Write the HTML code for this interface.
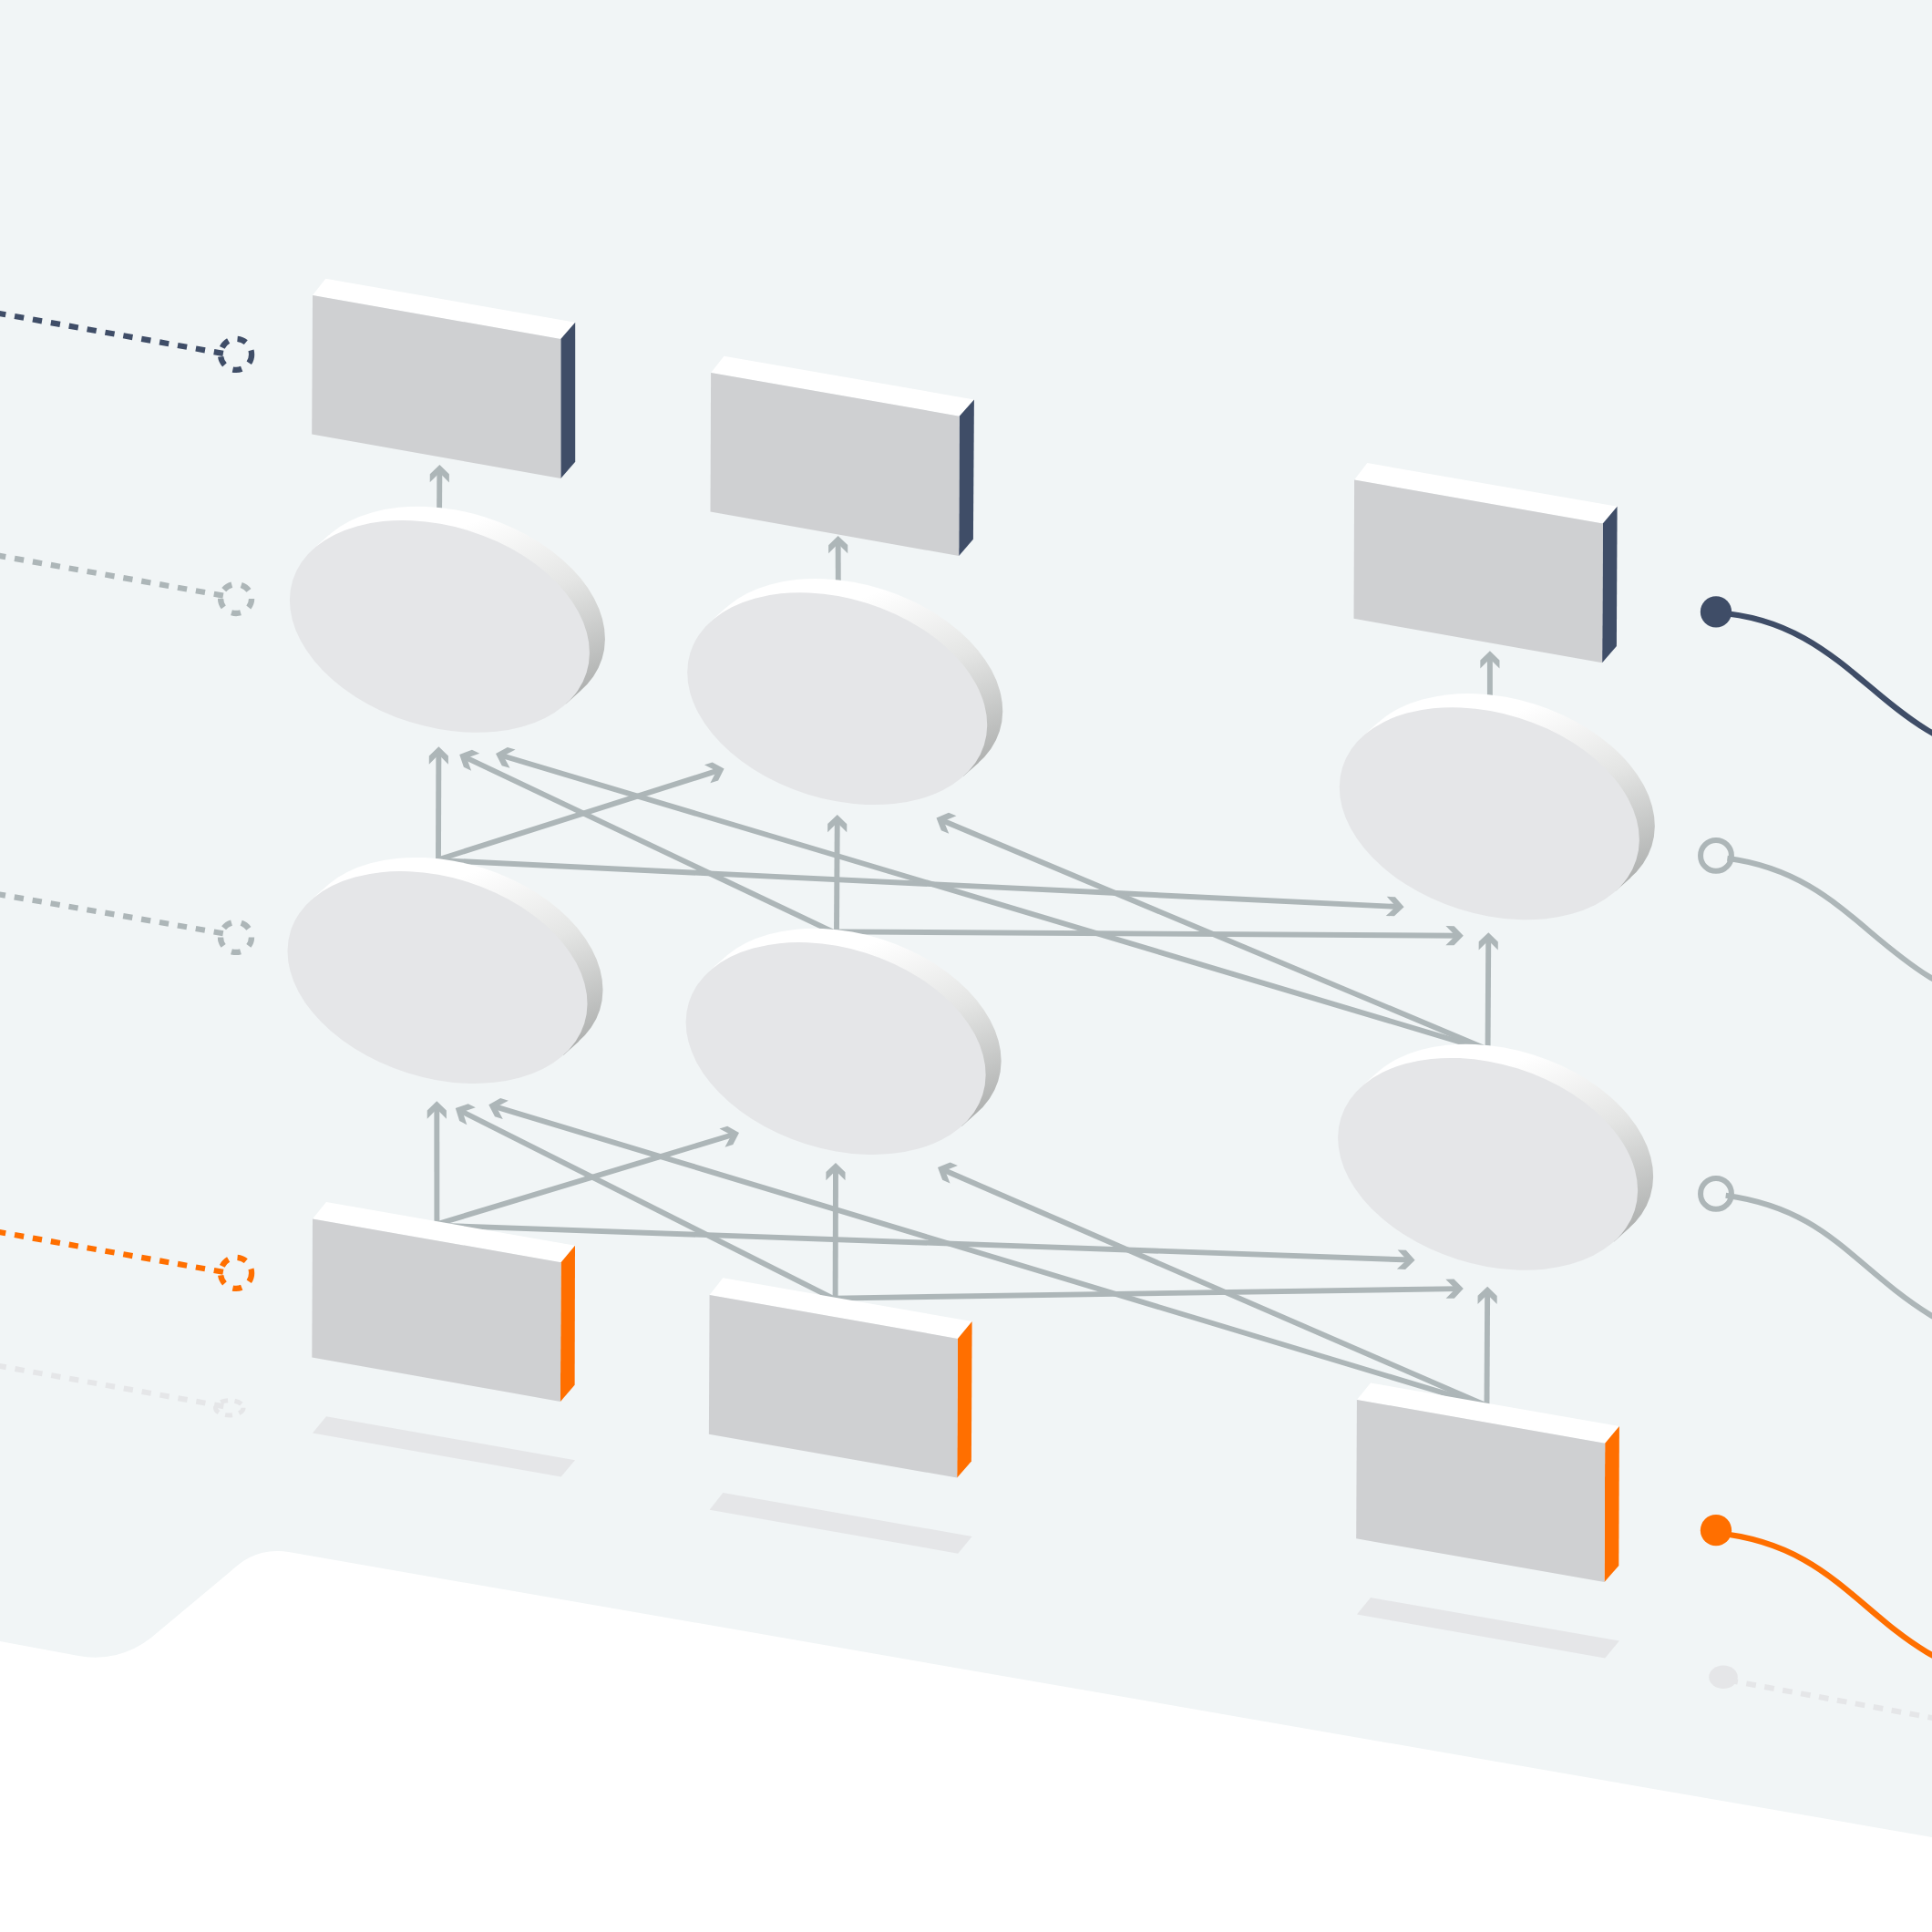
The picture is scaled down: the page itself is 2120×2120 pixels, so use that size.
<!DOCTYPE html>
<html><head><meta charset="utf-8"><title>Diagram</title>
<style>html,body{margin:0;padding:0;background:#f1f5f6;}body{width:2120px;height:2120px;overflow:hidden;font-family:"Liberation Sans",sans-serif;}svg{display:block;}</style>
</head><body>
<svg width="2120" height="2120" viewBox="0 0 2120 2120"><defs><linearGradient id="g0" gradientUnits="userSpaceOnUse" x1="449.9" y1="598.1" x2="525.8" y2="806.8"><stop offset="0" stop-color="#ffffff"/><stop offset="0.441" stop-color="#e4e5e4"/><stop offset="1" stop-color="#acaead"/></linearGradient><linearGradient id="g1" gradientUnits="userSpaceOnUse" x1="886.2" y1="677.4" x2="962.1" y2="886.1"><stop offset="0" stop-color="#ffffff"/><stop offset="0.441" stop-color="#e4e5e4"/><stop offset="1" stop-color="#acaead"/></linearGradient><linearGradient id="g2" gradientUnits="userSpaceOnUse" x1="1601.8" y1="803.4" x2="1677.7" y2="1012.1"><stop offset="0" stop-color="#ffffff"/><stop offset="0.441" stop-color="#e4e5e4"/><stop offset="1" stop-color="#acaead"/></linearGradient><linearGradient id="g3" gradientUnits="userSpaceOnUse" x1="447.5" y1="983.2" x2="523.4" y2="1191.9"><stop offset="0" stop-color="#ffffff"/><stop offset="0.441" stop-color="#e4e5e4"/><stop offset="1" stop-color="#acaead"/></linearGradient><linearGradient id="g4" gradientUnits="userSpaceOnUse" x1="884.6" y1="1061.2" x2="960.5" y2="1269.9"><stop offset="0" stop-color="#ffffff"/><stop offset="0.441" stop-color="#e4e5e4"/><stop offset="1" stop-color="#acaead"/></linearGradient><linearGradient id="g5" gradientUnits="userSpaceOnUse" x1="1600.1" y1="1188.0" x2="1676.0" y2="1396.7"><stop offset="0" stop-color="#ffffff"/><stop offset="0.441" stop-color="#e4e5e4"/><stop offset="1" stop-color="#acaead"/></linearGradient></defs>
<rect width="2120" height="2120" fill="#f1f5f6"/>
<path d="M-5,1800 L85,1816.7 A98,98 0 0 0 165.6,1797.3 L260.9,1717.6 A68,68 0 0 1 316.8,1703.1 L2125,2016.9 L2125,2125 L-5,2125 Z" fill="#ffffff"/>
<polygon points="358.00,1554.30 631.00,1602.20 615.60,1620.60 343.00,1572.40" fill="#e5e6e8"/>
<polygon points="793.30,1638.00 1066.60,1685.90 1051.20,1704.70 778.60,1656.80" fill="#e5e6e8"/>
<polygon points="1504.00,1753.10 1776.90,1800.60 1761.20,1819.40 1488.90,1771.50" fill="#e5e6e8"/>
<path d="M245.3,1543.2 L-12,1496.89" stroke="#e5e6e8" stroke-width="6" stroke-dasharray="10.3 9.9" fill="none"/>
<ellipse cx="251.8" cy="1544.8" rx="15.3" ry="8.2" fill="none" stroke="#e5e6e8" stroke-width="5" stroke-dasharray="8 7.5"/>
<ellipse cx="1891" cy="1840.2" rx="15.8" ry="12.7" fill="#e5e6e8"/>
<path d="M1896.4,1843.65 L2135.0,1887.70" stroke="#e5e6e8" stroke-width="6" stroke-dasharray="10.7 9.55" fill="none"/>
<path d="M244.9,387.9 L-12,341.95" stroke="#3f4d67" stroke-width="6.2" stroke-dasharray="10.3 9.9" fill="none"/>
<ellipse cx="259.05" cy="388.9" rx="17.05" ry="17.05" fill="none" stroke="#3f4d67" stroke-width="6.3" stroke-dasharray="10.0 10.35"/>
<path d="M244.9,653.6 L-12,607.86" stroke="#adb6b8" stroke-width="6.2" stroke-dasharray="10.3 9.9" fill="none"/>
<ellipse cx="259.1" cy="657.0" rx="17.0" ry="16.0" fill="none" stroke="#adb6b8" stroke-width="6.3" stroke-dasharray="10.2 10.54"/>
<path d="M244.8,1024.2 L-12,979.51" stroke="#adb6b8" stroke-width="6.2" stroke-dasharray="10.3 9.9" fill="none"/>
<ellipse cx="259.0" cy="1028.4" rx="17.0" ry="16.5" fill="none" stroke="#adb6b8" stroke-width="6.3" stroke-dasharray="10.2 10.85"/>
<path d="M244.9,1395.8 L-12,1350.06" stroke="#ff6f00" stroke-width="6.2" stroke-dasharray="10.3 9.9" fill="none"/>
<ellipse cx="259.05" cy="1396.9" rx="17.05" ry="17.05" fill="none" stroke="#ff6f00" stroke-width="6.3" stroke-dasharray="10.0 10.35"/>
<path d="M482.05,568.00 L482.37,515.00" stroke="#adb6b8" stroke-width="5.9" fill="none"/>
<polygon points="482.40,510.00 492.90,520.26 492.84,529.42 482.35,518.80 471.72,529.30 471.78,520.14" fill="#adb6b8"/>
<path d="M919.83,648.00 L919.62,592.90" stroke="#adb6b8" stroke-width="5.9" fill="none"/>
<polygon points="919.60,587.90 930.20,598.06 930.23,607.22 919.63,596.70 909.11,607.30 909.08,598.14" fill="#adb6b8"/>
<path d="M1634.90,774.00 L1634.90,719.20" stroke="#adb6b8" stroke-width="5.9" fill="none"/>
<polygon points="1634.90,714.20 1645.46,724.40 1645.46,733.56 1634.90,723.00 1624.34,733.56 1624.34,724.40" fill="#adb6b8"/>
<path d="M480.97,949.50 L481.38,824.30" stroke="#adb6b8" stroke-width="5.9" fill="none"/>
<polygon points="481.40,819.30 491.93,829.53 491.90,838.69 481.37,828.10 470.78,838.63 470.81,829.47" fill="#adb6b8"/>
<path d="M481.00,943.20 L789.84,844.92" stroke="#adb6b8" stroke-width="5.9" fill="none"/>
<polygon points="794.60,843.40 788.08,856.56 779.35,859.33 786.21,846.07 772.95,839.21 781.68,836.43" fill="#adb6b8"/>
<path d="M481.00,944.00 L1535.61,995.06" stroke="#adb6b8" stroke-width="5.9" fill="none"/>
<polygon points="1540.60,995.30 1529.90,1005.35 1520.75,1004.91 1531.81,994.87 1521.77,983.82 1530.92,984.26" fill="#adb6b8"/>
<path d="M917.95,1027.40 L918.77,898.90" stroke="#adb6b8" stroke-width="5.9" fill="none"/>
<polygon points="918.80,893.90 929.29,904.17 929.24,913.33 918.74,902.70 908.12,913.19 908.18,904.03" fill="#adb6b8"/>
<path d="M917.00,1024.00 L508.72,830.05" stroke="#adb6b8" stroke-width="5.9" fill="none"/>
<polygon points="504.20,827.90 517.94,822.74 526.22,826.67 512.15,831.68 517.16,845.75 508.88,841.82" fill="#adb6b8"/>
<path d="M917.00,1022.40 L1600.80,1026.77" stroke="#adb6b8" stroke-width="5.9" fill="none"/>
<polygon points="1605.80,1026.80 1595.53,1037.29 1586.37,1037.24 1597.00,1026.74 1586.51,1016.12 1595.67,1016.18" fill="#adb6b8"/>
<path d="M1632.55,1155.10 L1633.27,1028.20" stroke="#adb6b8" stroke-width="5.9" fill="none"/>
<polygon points="1633.30,1023.20 1643.80,1033.46 1643.75,1042.62 1633.25,1032.00 1622.63,1042.50 1622.68,1033.34" fill="#adb6b8"/>
<path d="M1630.40,1151.80 L548.79,828.53" stroke="#adb6b8" stroke-width="5.9" fill="none"/>
<polygon points="544.00,827.10 556.80,819.90 565.57,822.53 552.43,829.62 559.53,842.76 550.75,840.14" fill="#adb6b8"/>
<path d="M1630.40,1150.70 L1032.11,899.44" stroke="#adb6b8" stroke-width="5.9" fill="none"/>
<polygon points="1027.50,897.50 1040.99,891.71 1049.44,895.26 1035.61,900.91 1041.26,914.73 1032.82,911.19" fill="#adb6b8"/>
<path d="M479.41,1349.00 L479.30,1213.30" stroke="#adb6b8" stroke-width="5.9" fill="none"/>
<polygon points="479.30,1208.30 489.87,1218.49 489.87,1227.65 479.31,1217.10 468.75,1227.67 468.75,1218.51" fill="#adb6b8"/>
<path d="M479.40,1343.30 L806.21,1244.45" stroke="#adb6b8" stroke-width="5.9" fill="none"/>
<polygon points="811.00,1243.00 804.29,1256.06 795.53,1258.71 802.58,1245.55 789.41,1238.50 798.18,1235.85" fill="#adb6b8"/>
<path d="M479.40,1344.60 L1547.60,1382.52" stroke="#adb6b8" stroke-width="5.9" fill="none"/>
<polygon points="1552.60,1382.70 1542.03,1392.89 1532.88,1392.57 1543.81,1382.39 1533.63,1371.46 1542.78,1371.78" fill="#adb6b8"/>
<path d="M916.58,1429.80 L916.99,1280.90" stroke="#adb6b8" stroke-width="5.9" fill="none"/>
<polygon points="917.00,1275.90 927.53,1286.13 927.51,1295.29 916.98,1284.70 906.39,1295.23 906.41,1286.07" fill="#adb6b8"/>
<path d="M915.90,1425.60 L504.27,1218.35" stroke="#adb6b8" stroke-width="5.9" fill="none"/>
<polygon points="499.80,1216.10 513.66,1211.25 521.84,1215.37 507.66,1220.06 512.34,1234.24 504.16,1230.12" fill="#adb6b8"/>
<path d="M915.90,1424.60 L1600.80,1414.08" stroke="#adb6b8" stroke-width="5.9" fill="none"/>
<polygon points="1605.80,1414.00 1595.76,1424.72 1586.60,1424.86 1597.00,1414.14 1586.28,1403.74 1595.44,1403.60" fill="#adb6b8"/>
<path d="M1631.46,1546.40 L1632.17,1416.70" stroke="#adb6b8" stroke-width="5.9" fill="none"/>
<polygon points="1632.20,1411.70 1642.70,1421.96 1642.65,1431.12 1632.15,1420.50 1621.53,1431.00 1621.58,1421.84" fill="#adb6b8"/>
<path d="M1629.70,1542.30 L541.09,1213.65" stroke="#adb6b8" stroke-width="5.9" fill="none"/>
<polygon points="536.30,1212.20 549.12,1205.04 557.89,1207.69 544.72,1214.74 551.78,1227.90 543.01,1225.26" fill="#adb6b8"/>
<path d="M1629.70,1541.80 L1033.59,1282.99" stroke="#adb6b8" stroke-width="5.9" fill="none"/>
<polygon points="1029.00,1281.00 1042.56,1275.38 1050.96,1279.02 1037.07,1284.50 1042.55,1298.40 1034.15,1294.75" fill="#adb6b8"/>
<polygon points="343.05,323.97 357.30,305.80 631.20,353.70 615.30,372.00" fill="#ffffff"/>
<polygon points="615.30,372.00 631.20,353.70 631.20,506.80 615.30,524.95" fill="#3f4d67"/>
<polygon points="343.05,323.97 615.30,372.00 615.30,524.95 342.20,476.55" fill="#cfd0d2"/>
<polygon points="780.10,408.90 794.50,390.70 1068.90,438.40 1052.70,456.70" fill="#ffffff"/>
<polygon points="1052.70,456.70 1068.90,438.40 1067.90,591.70 1052.20,610.00" fill="#3f4d67"/>
<polygon points="780.10,408.90 1052.70,456.70 1052.20,610.00 779.50,561.40" fill="#cfd0d2"/>
<polygon points="1486.10,526.60 1500.30,508.00 1774.60,555.80 1758.80,574.50" fill="#ffffff"/>
<polygon points="1758.80,574.50 1774.60,555.80 1773.90,709.00 1758.10,727.20" fill="#3f4d67"/>
<polygon points="1486.10,526.60 1758.80,574.50 1758.10,727.20 1485.50,678.80" fill="#cfd0d2"/>
<polygon points="343.00,1337.40 358.00,1318.90 631.00,1366.80 615.60,1385.20" fill="#ffffff"/>
<polygon points="615.60,1385.20 631.00,1366.80 630.60,1519.80 614.90,1537.90" fill="#ff6f00"/>
<polygon points="343.00,1337.40 615.60,1385.20 614.90,1537.90 342.30,1489.40" fill="#cfd0d2"/>
<polygon points="778.60,1421.10 793.30,1402.30 1066.60,1450.10 1050.90,1468.90" fill="#ffffff"/>
<polygon points="1050.90,1468.90 1066.60,1450.10 1065.90,1603.50 1050.20,1621.60" fill="#ff6f00"/>
<polygon points="778.60,1421.10 1050.90,1468.90 1050.20,1621.60 777.90,1573.80" fill="#cfd0d2"/>
<polygon points="1488.90,1535.90 1504.00,1517.50 1776.90,1565.00 1761.20,1583.80" fill="#ffffff"/>
<polygon points="1761.20,1583.80 1776.90,1565.00 1776.30,1718.00 1760.50,1736.10" fill="#ff6f00"/>
<polygon points="1488.90,1535.90 1761.20,1583.80 1760.50,1736.10 1488.20,1688.30" fill="#cfd0d2"/>
<path d="M660.55,723.07 A168.98,109.81 17.518 1 0 338.25,621.33 A168.98,109.81 17.518 1 0 660.55,723.07 Z M620.87,772.53 L637.87,757.33 L360.93,587.07 L343.93,602.27 Z" fill="url(#g0)" fill-rule="nonzero"/>
<path d="M643.55,738.27 A168.98,109.81 17.518 1 0 321.25,636.53 A168.98,109.81 17.518 1 0 643.55,738.27 Z" fill="#e5e6e8"/>
<path d="M1096.85,802.37 A168.98,109.81 17.518 1 0 774.55,700.63 A168.98,109.81 17.518 1 0 1096.85,802.37 Z M1057.17,851.83 L1074.17,836.63 L797.23,666.37 L780.23,681.57 Z" fill="url(#g1)" fill-rule="nonzero"/>
<path d="M1079.85,817.57 A168.98,109.81 17.518 1 0 757.55,715.83 A168.98,109.81 17.518 1 0 1079.85,817.57 Z" fill="#e5e6e8"/>
<path d="M1812.45,928.37 A168.98,109.81 17.518 1 0 1490.15,826.63 A168.98,109.81 17.518 1 0 1812.45,928.37 Z M1772.77,977.83 L1789.77,962.63 L1512.83,792.37 L1495.83,807.57 Z" fill="url(#g2)" fill-rule="nonzero"/>
<path d="M1795.45,943.57 A168.98,109.81 17.518 1 0 1473.15,841.83 A168.98,109.81 17.518 1 0 1795.45,943.57 Z" fill="#e5e6e8"/>
<path d="M658.15,1108.17 A168.98,109.81 17.518 1 0 335.85,1006.43 A168.98,109.81 17.518 1 0 658.15,1108.17 Z M618.47,1157.63 L635.47,1142.43 L358.53,972.17 L341.53,987.37 Z" fill="url(#g3)" fill-rule="nonzero"/>
<path d="M641.15,1123.37 A168.98,109.81 17.518 1 0 318.85,1021.63 A168.98,109.81 17.518 1 0 641.15,1123.37 Z" fill="#e5e6e8"/>
<path d="M1095.25,1186.17 A168.98,109.81 17.518 1 0 772.95,1084.43 A168.98,109.81 17.518 1 0 1095.25,1186.17 Z M1055.57,1235.63 L1072.57,1220.43 L795.63,1050.17 L778.63,1065.37 Z" fill="url(#g4)" fill-rule="nonzero"/>
<path d="M1078.25,1201.37 A168.98,109.81 17.518 1 0 755.95,1099.63 A168.98,109.81 17.518 1 0 1078.25,1201.37 Z" fill="#e5e6e8"/>
<path d="M1810.75,1312.97 A168.98,109.81 17.518 1 0 1488.45,1211.23 A168.98,109.81 17.518 1 0 1810.75,1312.97 Z M1771.07,1362.43 L1788.07,1347.23 L1511.13,1176.97 L1494.13,1192.17 Z" fill="url(#g5)" fill-rule="nonzero"/>
<path d="M1793.75,1328.17 A168.98,109.81 17.518 1 0 1471.45,1226.43 A168.98,109.81 17.518 1 0 1793.75,1328.17 Z" fill="#e5e6e8"/>
<path d="M1883.00,672.40 C2030.03,680.95 2063.91,811.99 2191.91,828.39" stroke="#3f4d67" stroke-width="6.3" fill="none"/>
<circle cx="1883.0" cy="671.4" r="17.15" fill="#3f4d67"/>
<path d="M1895.40,941.80 C2037.61,960.91 2058.18,1074.40 2205.18,1107.65" stroke="#adb6b8" stroke-width="6.0" fill="none"/>
<circle cx="1883.0" cy="938.9" r="16.95" fill="none" stroke="#adb6b8" stroke-width="6"/>
<path d="M1893.70,1311.70 C2042.73,1332.18 2041.40,1436.28 2225.91,1489.74" stroke="#adb6b8" stroke-width="6.0" fill="none"/>
<circle cx="1883.0" cy="1309.9" r="16.95" fill="none" stroke="#adb6b8" stroke-width="6"/>
<path d="M1883.00,1682.20 C2039.00,1697.46 2051.36,1819.85 2205.11,1845.74" stroke="#ff6f00" stroke-width="6.3" fill="none"/>
<circle cx="1883.0" cy="1679.2" r="17.15" fill="#ff6f00"/>
</svg>
</body></html>
